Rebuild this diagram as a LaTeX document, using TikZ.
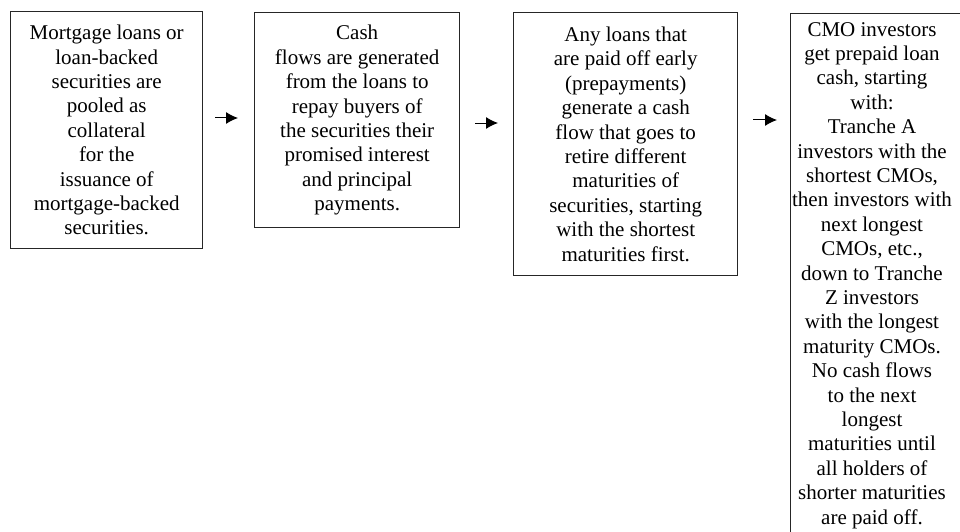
\documentclass[tikz,border=0pt]{standalone}
\usepackage{fontspec}
\setmainfont{Liberation Serif}
\usetikzlibrary{arrows.meta}

\tikzset{
  stagebox/.style={draw=black!85, line width=1.4pt, rectangle, inner sep=0pt,
    anchor=north west, align=center,
    font=\fontsize{21}{24.4}\selectfont},
  stagetext/.style={inner sep=0pt, align=center,
    font=\fontsize{21}{24.4}\selectfont},
  flowarrow/.style={line width=1pt, -{Latex[length=12pt,width=12pt]}}
}

\begin{document}
\begin{tikzpicture}[x=1pt, y=-1pt]
  \useasboundingbox (0,0) rectangle (960,532);
  \clip (0,0) rectangle (960,532);

  % stage 1: pooling
  \node[stagebox, minimum width=192pt, minimum height=237pt] (b1) at (10,11)
    {Mortgage loans or\\loan-backed\\securities are\\pooled as\\collateral\\for the\\issuance of\\mortgage-backed\\securities.};

  % stage 2: cash flows
  \node[stagebox, minimum width=205pt, minimum height=215pt] (b2) at (254,12)
    {Cash\\flows are generated\\from the loans to\\repay buyers of\\the securities their\\promised interest\\and principal\\payments.};

  % stage 3: prepayments
  \node[stagebox, minimum width=224pt, minimum height=263pt] (b3) at (513,12)
    {Any loans that\\are paid off early\\(prepayments)\\generate a cash\\flow that goes to\\retire different\\maturities of\\securities, starting\\with the shortest\\maturities first.};

  % stage 4: tranches (box runs past the page edges)
  \node[stagebox, minimum width=190pt, minimum height=560pt] (b4) at (790,13) {};
  \node[stagetext, anchor=north] (t4) at (872,22)
    {CMO investors\\get prepaid loan\\cash, starting\\with:\\Tranche A\\investors with the\\shortest CMOs,\\then investors with\\next longest\\CMOs, etc.,\\down to Tranche\\Z investors\\with the longest\\maturity CMOs.\\No cash flows\\to the next\\longest\\maturities until\\all holders of\\shorter maturities\\are paid off.};

  % arrows between the stages
  \coordinate (a1s) at (215,118);
  \coordinate (a1e) at (238,118);
  \coordinate (a2s) at (475,123);
  \coordinate (a2e) at (498,123);
  \coordinate (a3s) at (753,120);
  \coordinate (a3e) at (777,120);
  \draw[flowarrow] (a1s) -- (a1e);
  \draw[flowarrow] (a2s) -- (a2e);
  \draw[flowarrow] (a3s) -- (a3e);
\end{tikzpicture}
\end{document}
